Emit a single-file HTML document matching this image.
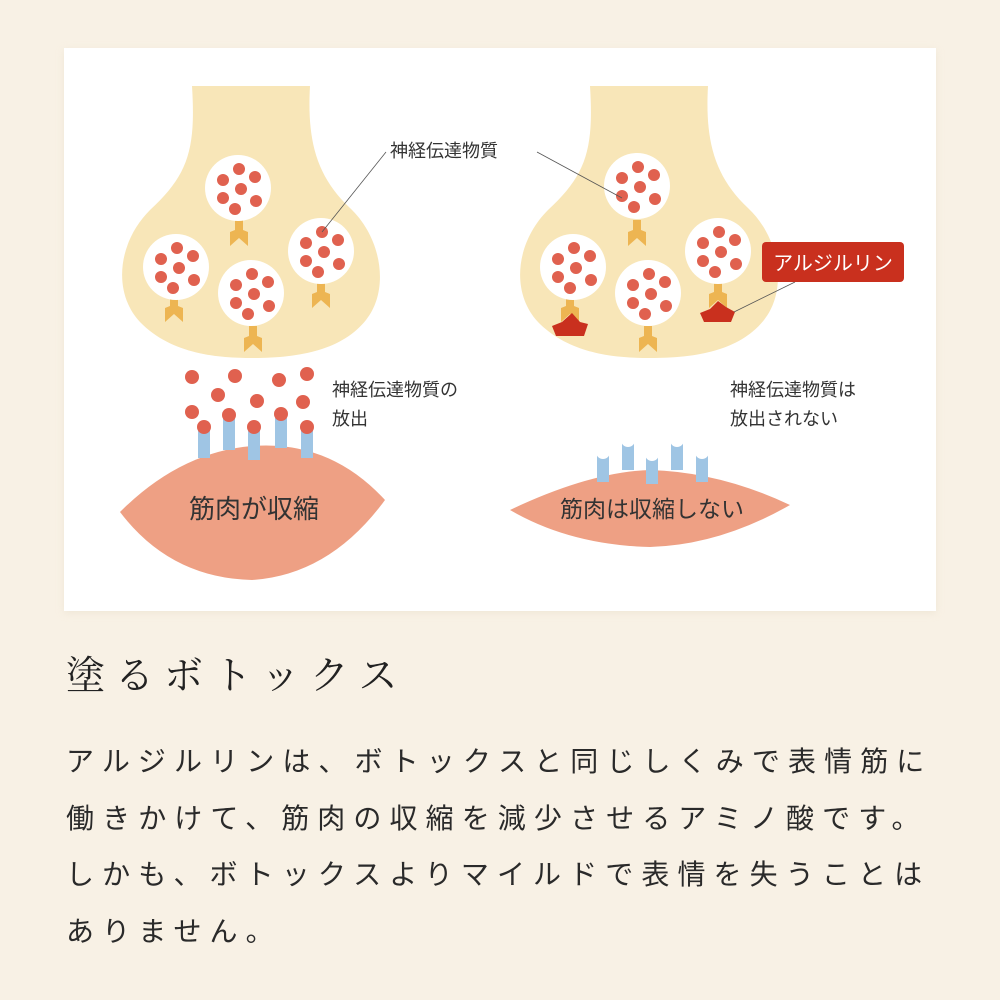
<!DOCTYPE html>
<html><head><meta charset="utf-8"><style>
body{margin:0;width:1000px;height:1000px;background:#f8f1e5;overflow:hidden;font-family:"Liberation Sans","Noto Sans CJK JP",sans-serif;}
.t{position:absolute;left:66px;top:652px;font-family:"Liberation Serif","Noto Serif CJK SC",serif;font-size:39px;letter-spacing:10px;color:#222;font-weight:400;line-height:50px;white-space:nowrap}
.b{position:absolute;left:66px;top:734px;font-size:28px;letter-spacing:8.1px;color:#2a2a2a;line-height:56.5px;white-space:nowrap;font-weight:400}
</style></head><body>
<svg width="1000" height="1000" style="position:absolute;left:0;top:0" font-family="Liberation Sans, Noto Sans CJK JP, sans-serif">
<defs>
<g id="ves">
<circle cx="0" cy="0" r="33" fill="#fff"/>
<g fill="#e0614f"><circle cx="1" cy="-19" r="6"/><circle cx="-15" cy="-8" r="6"/><circle cx="17" cy="-11" r="6"/><circle cx="3" cy="1" r="6"/><circle cx="-15" cy="10" r="6"/><circle cx="18" cy="13" r="6"/><circle cx="-3" cy="21" r="6"/></g>
</g>
<polygon id="rec" points="-4,0 4,0 4,10 9,12 9,26 0,18 -9,26 -9,12 -4,10" fill="#edb552"/>
<g id="br"><rect x="-6" y="0" width="12" height="30" fill="#9fc5e4"/><circle cx="0" cy="0" r="7" fill="#fff"/></g>
<filter id="sh" x="-5%" y="-5%" width="110%" height="110%"><feGaussianBlur stdDeviation="4"/></filter>
</defs>
<rect x="64" y="50" width="872" height="563" fill="#e9dfcc" opacity="0.6" filter="url(#sh)"/>
<rect x="64" y="48" width="872" height="563" fill="#fff"/>
<!-- left neuron -->
<path d="M192,86 C196,150 188,175 150,210 C118,242 112,292 140,322 C172,355 220,358 252,358 C300,358 342,350 366,320 C390,290 382,238 350,208 C316,176 307,140 310,86 Z" fill="#f8e6b8"/>
<use href="#rec" x="239" y="220"/><use href="#rec" x="174" y="296"/><use href="#rec" x="253" y="326"/><use href="#rec" x="321" y="282"/>
<use href="#ves" x="238" y="188"/><use href="#ves" x="176" y="267"/><use href="#ves" x="251" y="293"/><use href="#ves" x="321" y="251"/>
<line x1="386" y1="152" x2="322" y2="232" stroke="#555" stroke-width="0.8"/>
<text x="390" y="157" font-size="18" fill="#333">神経伝達物質</text>
<g fill="#e0614f"><circle cx="192" cy="377" r="7"/><circle cx="235" cy="376" r="7"/><circle cx="279" cy="380" r="7"/><circle cx="307" cy="374" r="7"/><circle cx="218" cy="395" r="7"/><circle cx="257" cy="401" r="7"/><circle cx="303" cy="402" r="7"/><circle cx="192" cy="412" r="7"/></g>
<path d="M120,512 Q180,452 252,446 Q330,440 385,500 Q330,575 252,580 Q170,578 120,512Z" fill="#eea084"/>
<g fill="#9fc5e4"><rect x="198" y="428" width="12" height="30"/><rect x="223" y="418" width="12" height="32"/><rect x="248" y="430" width="12" height="30"/><rect x="275" y="418" width="12" height="30"/><rect x="301" y="428" width="12" height="30"/></g>
<g fill="#e0614f"><circle cx="204" cy="427" r="7"/><circle cx="229" cy="415" r="7"/><circle cx="254" cy="427" r="7"/><circle cx="281" cy="414" r="7"/><circle cx="307" cy="427" r="7"/></g>
<text x="332" y="396" font-size="18" fill="#333">神経伝達物質の</text>
<text x="332" y="425" font-size="18" fill="#333">放出</text>
<text x="254" y="518" font-size="26" fill="#333" text-anchor="middle">筋肉が収縮</text>
<!-- right neuron -->
<path d="M590,86 C594,150 586,175 548,210 C516,242 510,292 538,322 C570,355 618,358 650,358 C698,358 740,350 764,320 C788,290 780,238 748,208 C714,176 705,140 708,86 Z" fill="#f8e6b8"/>
<use href="#rec" x="637" y="220"/><use href="#rec" x="570" y="296"/><use href="#rec" x="648" y="326"/><use href="#rec" x="718" y="282"/>
<use href="#ves" x="637" y="186"/><use href="#ves" x="573" y="267"/><use href="#ves" x="648" y="293"/><use href="#ves" x="718" y="251"/>
<polygon points="552,326 562,322 572,313 580,322 588,324 584,336 556,336" fill="#c9301e"/>
<polygon points="700,313 710,309 718,301 726,307 735,312 731,322 704,322" fill="#c9301e"/>
<line x1="537" y1="152" x2="622" y2="198" stroke="#555" stroke-width="0.8"/>
<line x1="795" y1="282" x2="734" y2="312" stroke="#555" stroke-width="0.8"/>
<rect x="762" y="242" width="142" height="40" rx="4" fill="#c9301e"/>
<text x="833" y="270" font-size="20" fill="#fff" text-anchor="middle">アルジルリン</text>
<text x="730" y="396" font-size="18" fill="#333">神経伝達物質は</text>
<text x="730" y="425" font-size="18" fill="#333">放出されない</text>
<path d="M510,510 Q590,472 650,470 Q720,472 790,505 Q720,545 650,547 Q570,545 510,510Z" fill="#eea084"/>
<use href="#br" x="603" y="452"/><use href="#br" x="628" y="440"/><use href="#br" x="652" y="454"/><use href="#br" x="677" y="440"/><use href="#br" x="702" y="452"/>
<text x="652" y="517" font-size="23" fill="#333" text-anchor="middle">筋肉は収縮しない</text>
</svg>
<div class="t">塗るボトックス</div>
<div class="b">アルジルリンは、ボトックスと同じしくみで表情筋に<br>働きかけて、筋肉の収縮を減少させるアミノ酸です。<br>しかも、ボトックスよりマイルドで表情を失うことは<br>ありません。</div>
</body></html>
